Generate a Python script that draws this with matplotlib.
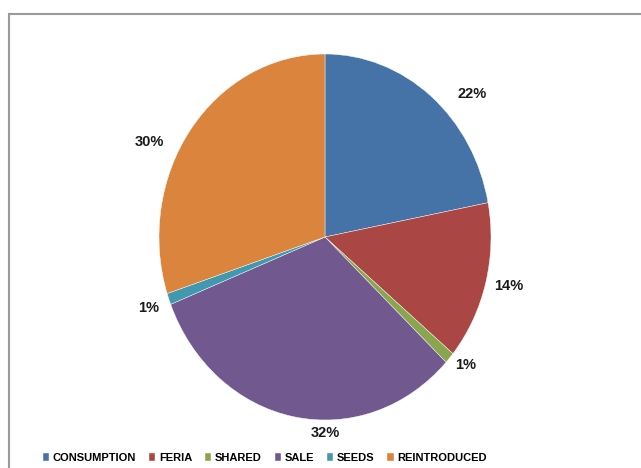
import numpy as np
import matplotlib.pyplot as plt
from matplotlib.patches import Rectangle

categories = ["CONSUMPTION", "FERIA", "SHARED", "SALE", "SEEDS", "REINTRODUCED"]
values = [22, 14, 1, 32, 1, 30]
colors = ["#4572a7", "#aa4643", "#89a54e", "#71588f", "#4198af", "#db843d"]

# small nudges of the percent labels (axes units) to mimic the spreadsheet layout
label_nudge = [(0.17, -0.08), (0.02, 0.01), (0.01, 0.04),
               (0.21, 0.03), (-0.01, -0.01), (-0.15, -0.14)]

fig = plt.figure(figsize=(6.41, 4.68), dpi=100)

# gray frame, cut off at right and bottom like the source screenshot
fig.patches.append(Rectangle((9 / 641, -0.1), 1.2, (468 - 14) / 468 + 0.1,
                             transform=fig.transFigure, fill=False,
                             ec="#9a9a9a", lw=1.5))

ax = fig.add_axes([159 / 641, 48 / 468, 332 / 641, 366 / 468])
wedges, texts, autotexts = ax.pie(
    values, colors=colors, startangle=90, counterclock=False,
    autopct=lambda p: f"{p:.0f}%", pctdistance=1.12,
    wedgeprops=dict(edgecolor="white", linewidth=0.3),
    textprops=dict(fontfamily="Liberation Sans", fontweight="bold",
                   fontsize=10.5, color="#1a1a1a"))
for t, (dx, dy) in zip(autotexts, label_nudge):
    x, y = t.get_position()
    t.set_position((x + dx, y + dy))

ax.set_xlim(-1, 1)
ax.set_ylim(-1, 1)
ax.set_aspect("auto")

fig.legend(wedges, categories, loc="center", bbox_to_anchor=(265 / 641, 10 / 468),
           ncol=6, frameon=False, handlelength=0.55, handleheight=0.75,
           handletextpad=0.35, columnspacing=1.15,
           prop=dict(family="Liberation Sans", weight="bold", size=8))

fig.savefig("out.png", dpi=100)
